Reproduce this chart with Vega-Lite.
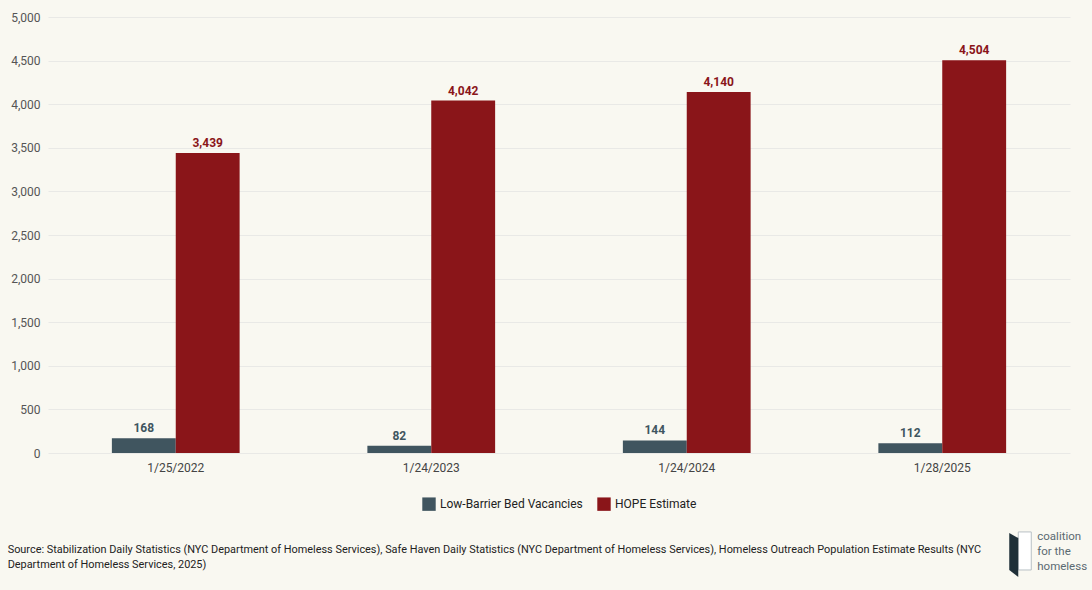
{
  "$schema": "https://vega.github.io/schema/vega-lite/v6.json",
  "width": 1022,
  "height": 436,
  "autosize": {"type": "none"},
  "padding": {"left": 48, "top": 17, "right": 22, "bottom": 137},
  "background": "#f9f8f1",
  "config": {
    "view": {"stroke": null},
    "font": "Roboto, sans-serif",
    "legend": {"layout": {"bottom": {"anchor": "middle"}}}
  },
  "title": {
    "text": [
      "Source: Stabilization Daily Statistics (NYC Department of Homeless Services), Safe Haven Daily Statistics (NYC Department of Homeless Services), Homeless Outreach Population Estimate Results (NYC",
      "Department of Homeless Services, 2025)"
    ],
    "orient": "bottom",
    "anchor": "start",
    "frame": "bounds",
    "fontSize": 10.9,
    "fontWeight": "normal",
    "color": "#222222",
    "lineHeight": 15,
    "offset": -33,
    "dx": -3
  },
  "datasets": {
    "bars": [
      {"date": "1/25/2022", "series": "Low-Barrier Bed Vacancies", "value": 168},
      {"date": "1/25/2022", "series": "HOPE Estimate", "value": 3439},
      {"date": "1/24/2023", "series": "Low-Barrier Bed Vacancies", "value": 82},
      {"date": "1/24/2023", "series": "HOPE Estimate", "value": 4042},
      {"date": "1/24/2024", "series": "Low-Barrier Bed Vacancies", "value": 144},
      {"date": "1/24/2024", "series": "HOPE Estimate", "value": 4140},
      {"date": "1/28/2025", "series": "Low-Barrier Bed Vacancies", "value": 112},
      {"date": "1/28/2025", "series": "HOPE Estimate", "value": 4504}
    ],
    "logo": [
      {"line": "coalition", "pos": -963},
      {"line": "for the", "pos": -1135},
      {"line": "homeless", "pos": -1307}
    ]
  },
  "layer": [
    {
      "data": {"name": "bars"},
      "mark": {"type": "bar"},
      "encoding": {
        "x": {
          "field": "date", "type": "nominal", "sort": null,
          "scale": {"paddingInner": 0.5, "paddingOuter": 0.25},
          "axis": {"title": null, "labelAngle": 0, "ticks": false, "domain": false, "labelFontSize": 12, "labelColor": "#444444", "labelPadding": 9}
        },
        "xOffset": {"field": "series", "type": "nominal", "sort": ["Low-Barrier Bed Vacancies", "HOPE Estimate"], "scale": {"paddingInner": 0}},
        "y": {
          "field": "value", "type": "quantitative",
          "scale": {"domain": [0, 5000], "nice": false},
          "axis": {"title": null, "values": [0, 500, 1000, 1500, 2000, 2500, 3000, 3500, 4000, 4500, 5000], "labelExpr": "format(datum.value, ',')", "ticks": false, "domain": false, "labelFontSize": 12, "labelColor": "#555555", "labelPadding": 8, "gridColor": "#e9e9e6", "gridWidth": 1}
        },
        "color": {
          "field": "series", "type": "nominal",
          "scale": {"domain": ["Low-Barrier Bed Vacancies", "HOPE Estimate"], "range": ["#40555f", "#8a1519"]},
          "legend": {"title": null, "orient": "bottom", "direction": "horizontal", "symbolType": "square", "symbolSize": 180, "symbolStrokeWidth": 0, "labelFontSize": 12, "labelColor": "#222222", "columnPadding": 14, "offset": 24, "labelOffset": 4}
        }
      }
    },
    {
      "data": {"name": "bars"},
      "mark": {"type": "text", "dy": -3, "fontWeight": "bold", "fontSize": 12, "baseline": "bottom"},
      "encoding": {
        "x": {"field": "date", "type": "nominal", "sort": null},
        "xOffset": {"field": "series", "type": "nominal", "sort": ["Low-Barrier Bed Vacancies", "HOPE Estimate"]},
        "y": {"field": "value", "type": "quantitative"},
        "text": {"field": "value", "type": "quantitative", "format": ","},
        "color": {"field": "series", "type": "nominal", "legend": null}
      }
    },
    {
      "data": {"values": [{"k": 1}]},
      "mark": {"type": "point", "filled": true, "shape": "M-0.09,-1.05L0.5,-1.05L0.5,0.68L-0.09,0.68Z", "size": 1936, "color": "#ffffff", "stroke": "#b8c0c4", "strokeWidth": 1, "opacity": 1, "xOffset": 78, "clip": false},
      "encoding": {"x": {"datum": "1/28/2025"}, "y": {"datum": -1170}}
    },
    {
      "data": {"values": [{"k": 1}]},
      "mark": {"type": "point", "filled": true, "shape": "M-0.5,-1L-0.09,-0.77L-0.09,1L-0.5,0.68Z", "size": 1936, "color": "#1f3038", "opacity": 1, "xOffset": 78, "clip": false},
      "encoding": {"x": {"datum": "1/28/2025"}, "y": {"datum": -1170}}
    },
    {
      "data": {"name": "logo"},
      "mark": {"type": "text", "align": "left", "baseline": "middle", "dx": 95, "fontSize": 11.5, "color": "#5b6a72", "clip": false},
      "encoding": {
        "x": {"datum": "1/28/2025"},
        "y": {"field": "pos", "type": "quantitative"},
        "text": {"field": "line"}
      }
    }
  ]
}
